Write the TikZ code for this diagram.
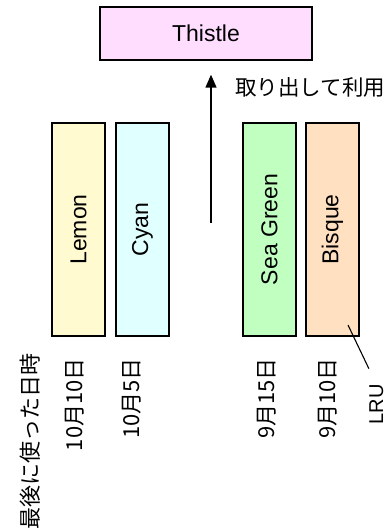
\documentclass[tikz,border=0pt]{standalone}
\usepackage{fontspec}
\setmainfont{Liberation Sans}
\newfontfamily\jp{Noto Sans CJK JP}
\usetikzlibrary{arrows.meta}
\definecolor{thistlecol}{HTML}{FFDDFF}
\definecolor{lemoncol}{HTML}{FFFAD0}
\definecolor{cyancol}{HTML}{E0FFFF}
\definecolor{greencol}{HTML}{C0FFC0}
\definecolor{bisquecol}{HTML}{FFE0C0}
\begin{document}
\begin{tikzpicture}
	    [x=1pt, y=-1pt,
	    cache/.style={rectangle, draw, line width=1.4pt, rotate=90, minimum width=213pt, minimum height=53pt, inner sep=0pt, font=\fontsize{23}{27}\selectfont},
	    stamp/.style={rotate=90, anchor=east, inner sep=0pt, font=\jp\fontsize{22}{26}\selectfont}]
	    \useasboundingbox (0,0) rectangle (387,529);
	    % \draw[step=10pt,gray,very thin] (0,0) grid (387,529);
	    \node[draw, line width=1.4pt, fill=thistlecol, minimum width=212pt, minimum height=53pt, font=\fontsize{23}{27}\selectfont] (thistle) at (206,33.5) {Thistle};
	    \node[cache, fill=lemoncol]   (lemon)  at (78.5,229.5)  {Lemon};
	    \node[cache, fill=cyancol]    (cyan)   at (142.5,229.5) {Cyan};
	    \node[cache, fill=greencol]   (green)  at (269.5,229.5) {Sea Green};
	    \node[cache, fill=bisquecol]  (bisque) at (332.5,229.5) {Bisque};
	    \node[stamp] (label)  at (30,353)  {最後に使った日時};
	    \node[stamp] (date1)  at (75,358)  {10月10日};
	    \node[stamp] (date2)  at (132,358) {10月5日};
	    \node[stamp] (date3)  at (267,358) {9月15日};
	    \node[stamp] (date4)  at (328,358) {9月10日};
	    \node[rotate=90, anchor=base east, inner sep=0pt, font=\fontsize{20}{24}\selectfont] (lru) at (383,384) {LRU};
	    \node[anchor=west, inner sep=0pt, font=\jp\fontsize{21.5}{26}\selectfont] (use) at (235,87) {取り出して利用};
	    \coordinate (pick) at (211,223);
	    \coordinate (lrutip) at (348,325);
	    \draw[-{Triangle[width=11pt,length=13pt]}, line width=1.4pt, shorten >=14pt] (pick) -- (pick |- thistle.south);
	    \draw[line width=1.1pt, shorten >=17pt] (lrutip) -- (lru.east);
	\end{tikzpicture}
\end{document}
